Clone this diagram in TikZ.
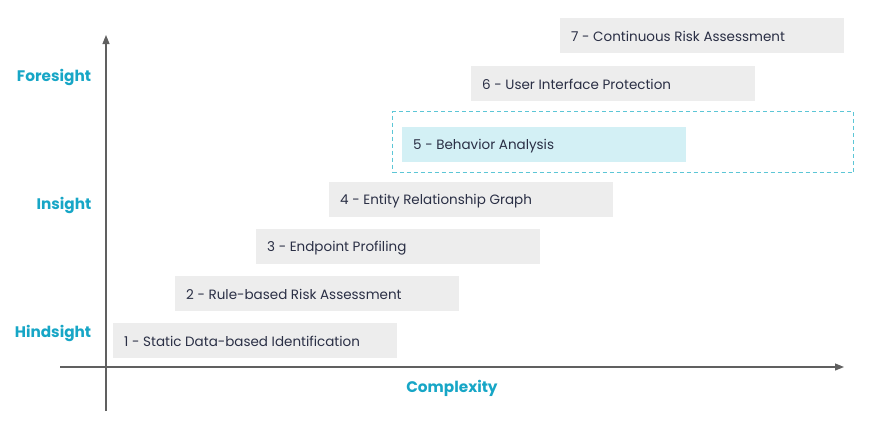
\documentclass[tikz,border=0pt]{standalone}
\usepackage{fontspec}
\setmainfont{Poppins}
\usetikzlibrary{arrows.meta}
\definecolor{teal1}{HTML}{17A6C6}
\definecolor{dashc}{HTML}{5CC6D6}
\definecolor{boxg}{HTML}{EDEDED}
\definecolor{boxb}{HTML}{D3F0F5}
\definecolor{txt}{HTML}{2A2F45}
\definecolor{axisc}{HTML}{606060}
\tikzset{
  stage/.style={fill=boxg, draw=none, minimum width=284pt, minimum height=35pt, anchor=north west, inner sep=0pt},
  stagetext/.style={anchor=west, text=txt, font=\fontsize{13.5}{15}\selectfont, inner sep=0pt},
  axislbl/.style={text=teal1, font=\fontsize{15.3}{17}\selectfont\bfseries, inner sep=0pt},
  axisline/.style={draw=axisc, line width=1.1pt, -{Triangle[length=9pt,width=7pt]}}
}
\begin{document}
\begin{tikzpicture}[x=1pt,y=-1pt]
\useasboundingbox (0,0) rectangle (879,423);
% axes
\coordinate (yb) at (106,411);
\coordinate (yt) at (106,35);
\coordinate (xl) at (60,367);
\coordinate (xr) at (844,367);
\draw[axisline] (yb) -- (yt);
\draw[axisline] (xl) -- (xr);
% dashed box
\node (dash) [draw=dashc, dashed, dash pattern=on 4pt off 3pt, line width=1.2pt, minimum width=461pt, minimum height=61pt, anchor=north west, inner sep=0pt] at (392,111) {};
% stages
\node (s1) [stage] at (113,323) {};
\node (s2) [stage] at (175,276) {};
\node (s3) [stage] at (256,229) {};
\node (s4) [stage] at (329,182) {};
\node (s5) [stage, fill=boxb] at (402,127) {};
\node (s6) [stage] at (471,66) {};
\node (s7) [stage] at (560,18) {};
\node (t1) [stagetext] at ([xshift=11pt,yshift=-1pt]s1.west) {1 - Static Data-based Identification};
\node (t2) [stagetext] at ([xshift=11pt,yshift=-1pt]s2.west) {2 - Rule-based Risk Assessment};
\node (t3) [stagetext] at ([xshift=11pt,yshift=-1pt]s3.west) {3 - Endpoint Profiling};
\node (t4) [stagetext] at ([xshift=11pt,yshift=-1pt]s4.west) {4 - Entity Relationship Graph};
\node (t5) [stagetext] at ([xshift=11pt,yshift=-1pt]s5.west) {5 - Behavior Analysis};
\node (t6) [stagetext] at ([xshift=11pt,yshift=-1pt]s6.west) {6 - User Interface Protection};
\node (t7) [stagetext] at ([xshift=11pt,yshift=-1pt]s7.west) {7 - Continuous Risk Assessment};
% labels
\node (fore) [axislbl] at (54,77) {Foresight};
\node (ins) [axislbl] at (64,205) {Insight};
\node (hind) [axislbl] at (53,333) {Hindsight};
\node (cx) [axislbl] at (452,388) {Complexity};
\end{tikzpicture}
\end{document}
